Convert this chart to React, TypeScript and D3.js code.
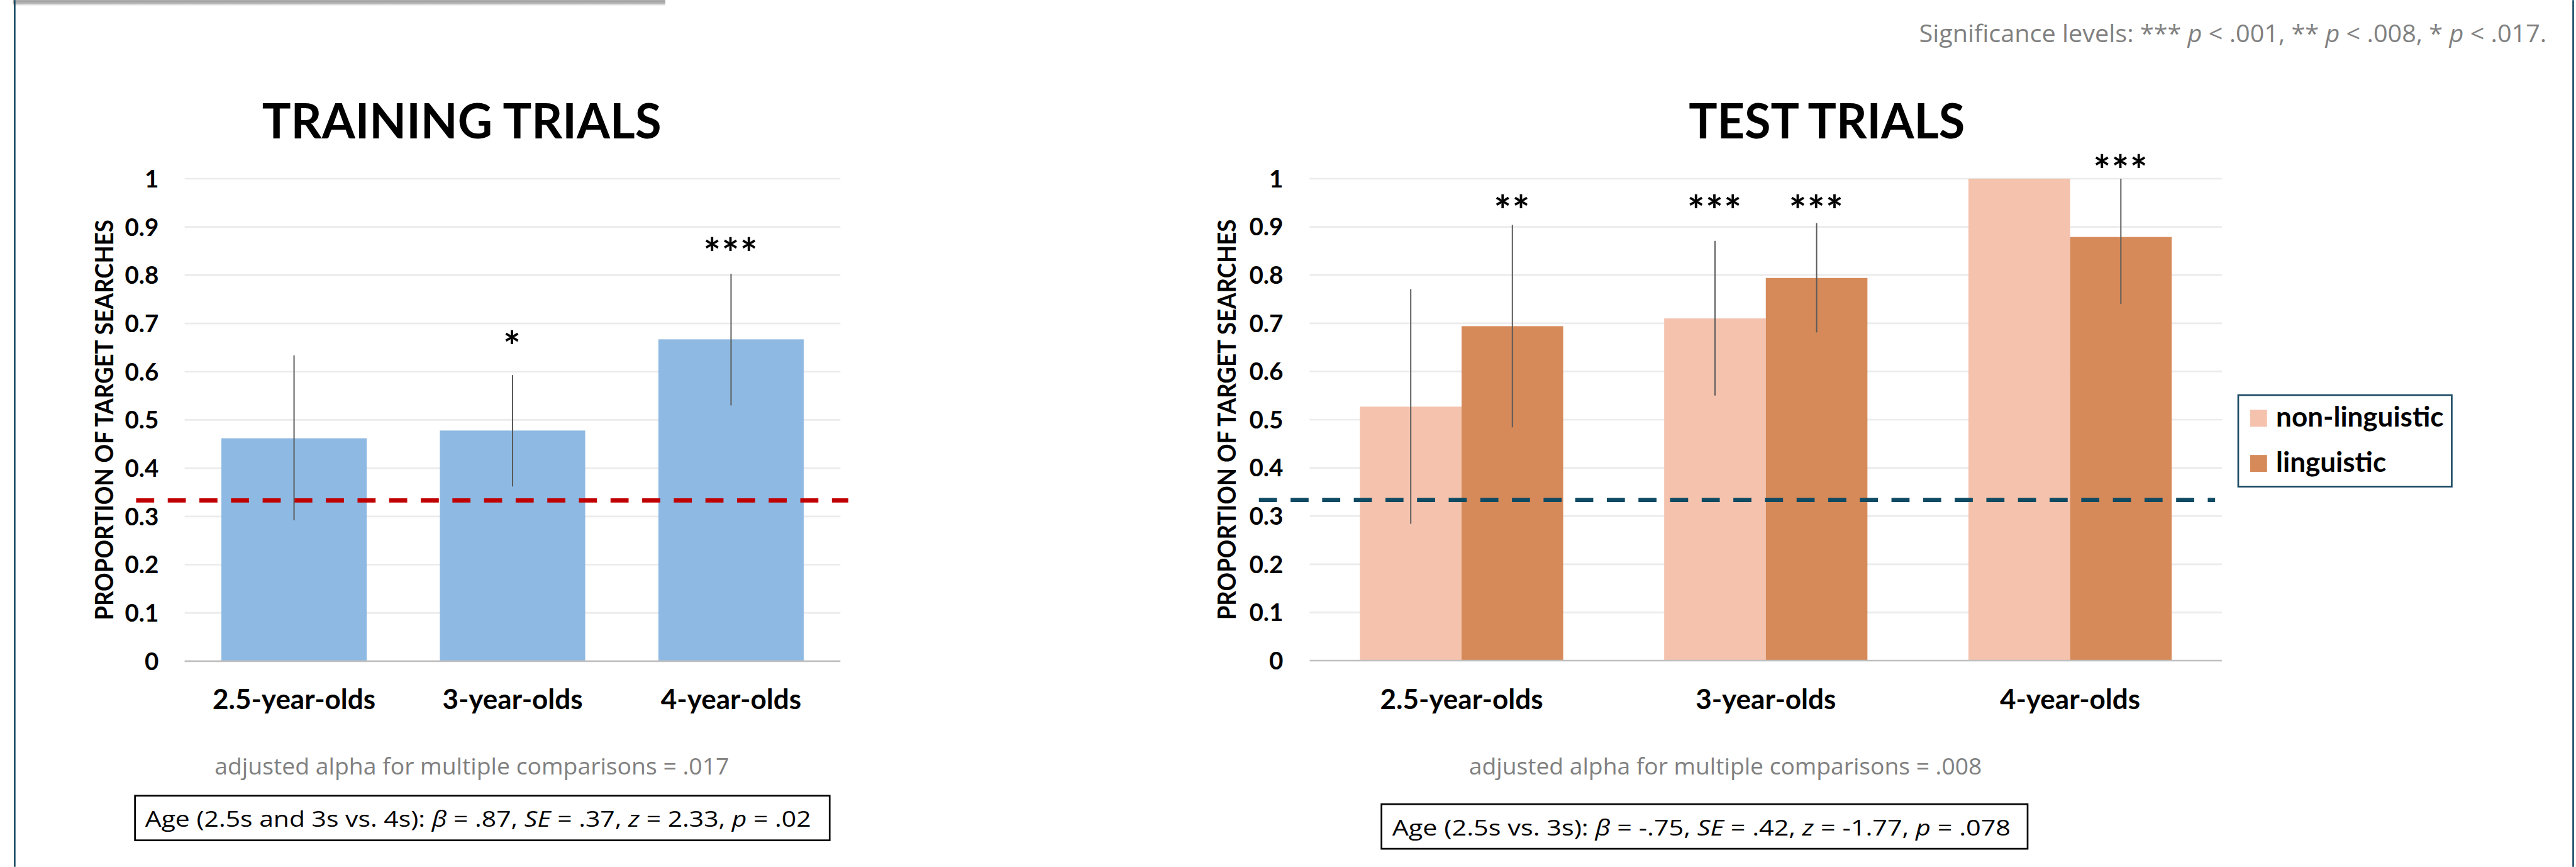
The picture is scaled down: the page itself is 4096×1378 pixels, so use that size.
import React from "react";
import * as d3 from "d3";

// ---------- data ----------
const ageGroups = ["2.5-year-olds", "3-year-olds", "4-year-olds"];
const yTicks = [0, 0.1, 0.2, 0.3, 0.4, 0.5, 0.6, 0.7, 0.8, 0.9, 1];
const chanceLevel = 1 / 3;

const trainMean = [0.462, 0.478, 0.667];
const trainLow = [0.292, 0.362, 0.53];
const trainHigh = [0.634, 0.593, 0.803];
const trainStars = ["", "*", "***"];
const trainStarLevel = [0, 0.668, 0.861];

const testSeries = ["non-linguistic", "linguistic"];
const testNonLing = [0.527, 0.71, 1.0];
const testLing = [0.694, 0.794, 0.879];
const testNonLingLow = [0.284, 0.55, NaN];
const testNonLingHigh = [0.771, 0.871, NaN];
const testLingLow = [0.484, 0.681, 0.74];
const testLingHigh = [0.904, 0.908, 1.0];
const testNonLingStars = ["", "***", ""];
const testLingStars = ["**", "***", "***"];
const testNonLingStarLevel = [0, 0.95, 0];
const testLingStarLevel = [0.95, 0.95, 1.033];

const trainTitle = "TRAINING TRIALS";
const testTitle = "TEST TRIALS";
const yAxisTitle = "PROPORTION OF TARGET SEARCHES";
const trainAlphaNote = "adjusted alpha for multiple comparisons = .017";
const testAlphaNote = "adjusted alpha for multiple comparisons = .008";
// [text, italic]
const trainStat: [string, boolean][] = [
  ["Age (2.5s and 3s vs. 4s): ", false], ["β", true], [" = .87, ", false], ["SE", true],
  [" = .37, ", false], ["z", true], [" = 2.33, ", false], ["p", true], [" = .02", false],
];
const testStat: [string, boolean][] = [
  ["Age (2.5s vs. 3s): ", false], ["β", true], [" = -.75, ", false], ["SE", true],
  [" = .42, ", false], ["z", true], [" = -1.77, ", false], ["p", true], [" = .078", false],
];
const sigNote: [string, boolean][] = [
  ["Significance levels: *** ", false], ["p", true], [" < .001, ** ", false], ["p", true],
  [" < .008, * ", false], ["p", true], [" < .017.", false],
];

// ---------- styles ----------
const REF_W = 4561;
const REF_H = 1534;
const OUT_W = 4096;
const OUT_H = 1378;
const BOLD = "Lato, 'Open Sans', sans-serif";
const NOTE = "'Open Sans', Lato, sans-serif";
const C_TRAIN = "#8DB9E2";
const C_NONLING = "#F4C2AD";
const C_LING = "#D68A59";
const C_ERR = "#595959";
const C_GRID = "#EBEBEB";
const C_BASE = "#BFBFBF";
const C_RED = "#C00000";
const C_TEAL = "#0F4A63";
const C_FRAME = "#1F4E66";
const C_NOTE = "#808080";

const fmt = d3.format("~g");

function YAxis({ y, right, x0, x1 }: any) {
  return (
    <g>
      {yTicks.map((t) => (
        <g key={t}>
          {t > 0 && (
            <line x1={x0} x2={x1} y1={y(t)} y2={y(t)} stroke={C_GRID} strokeWidth={3} />
          )}
          <text x={right} y={y(t)} dy="0.36em" textAnchor="end" fontFamily={BOLD}
            fontWeight={700} fontSize={43} fill="#000">{fmt(t)}</text>
        </g>
      ))}
    </g>
  );
}

function Segs({ segs }: { segs: [string, boolean][] }) {
  return (
    <>
      {segs.map(([s, it], i) => (
        <tspan key={i} fontStyle={it ? "italic" : "normal"}>{s}</tspan>
      ))}
    </>
  );
}

export default function App() {
  // ----- training chart scales -----
  const yL = d3.scaleLinear().domain([0, 1]).range([1170, 316]);
  const xL = d3.scaleBand<string>().domain(ageGroups).range([327, 1488])
    .paddingInner(0.335).paddingOuter(0.168);

  // ----- test chart scales -----
  const yR = d3.scaleLinear().domain([0, 1]).range([1169, 316]);
  const xR = d3.scaleBand<string>().domain(ageGroups).range([2319, 3934])
    .paddingInner(0.332).paddingOuter(0.165);
  const xS = d3.scaleBand<string>().domain(testSeries).range([0, xR.bandwidth()]).padding(0);

  const testData = [
    { key: testSeries[0], vals: testNonLing, lo: testNonLingLow, hi: testNonLingHigh, stars: testNonLingStars, lvl: testNonLingStarLevel, color: C_NONLING },
    { key: testSeries[1], vals: testLing, lo: testLingLow, hi: testLingHigh, stars: testLingStars, lvl: testLingStarLevel, color: C_LING },
  ];

  const starFont = { fontFamily: BOLD, fontWeight: 700, fontSize: 72, fill: "#000", letterSpacing: 2 } as any;

  return (
    <svg width={OUT_W} height={OUT_H} viewBox={`0 0 ${REF_W} ${REF_H}`}
      style={{ position: "absolute", left: 0, top: 0, background: "#fff" }}>
      <defs>
        <linearGradient id="topShadow" x1="0" y1="0" x2="0" y2="1">
          <stop offset="0" stopColor="#9a9a9a" />
          <stop offset="0.5" stopColor="#b8b8b8" />
          <stop offset="1" stopColor="#ffffff" stopOpacity="0" />
        </linearGradient>
      </defs>
      <rect x={0} y={0} width={REF_W} height={REF_H} fill="#fff" />
      {/* frame */}
      <rect x={23} y={0} width={1155} height={12} fill="url(#topShadow)" />
      <line x1={26} x2={26} y1={0} y2={REF_H} stroke={C_FRAME} strokeWidth={3} />
      <line x1={4556} x2={4556} y1={0} y2={REF_H} stroke={C_FRAME} strokeWidth={3} />

      {/* ===== TRAINING ===== */}
      <text x={464} y={245} fontFamily={BOLD} fontWeight={700} fontSize={86}
        textLength={707} lengthAdjust="spacingAndGlyphs">{trainTitle}</text>
      <YAxis y={yL} right={281} x0={327} x1={1488} />
      <text transform={`translate(200,${(yL(0) + yL(1)) / 2}) rotate(-90)`} textAnchor="middle"
        fontFamily={BOLD} fontWeight={700} fontSize={45} textLength={709}
        lengthAdjust="spacingAndGlyphs">{yAxisTitle}</text>
      {ageGroups.map((g, i) => (
        <rect key={g} x={xL(g)} width={xL.bandwidth()} y={yL(trainMean[i])}
          height={yL(0) - yL(trainMean[i])} fill={C_TRAIN} />
      ))}
      <line x1={327} x2={1488} y1={yL(0)} y2={yL(0)} stroke={C_BASE} strokeWidth={3} />
      <line x1={241} x2={1502} y1={yL(chanceLevel)} y2={yL(chanceLevel)} stroke={C_RED}
        strokeWidth={7.5} strokeDasharray="32 24" />
      {ageGroups.map((g, i) => {
        const cx = (xL(g) as number) + xL.bandwidth() / 2;
        return (
          <g key={g}>
            <line x1={cx} x2={cx} y1={yL(trainHigh[i])} y2={yL(trainLow[i])} stroke={C_ERR} strokeWidth={2.2} />
            {trainStars[i] && (
              <text x={cx} y={yL(trainStarLevel[i])} dy="0.55em" textAnchor="middle" {...starFont}>{trainStars[i]}</text>
            )}
            <text x={cx} y={1255} textAnchor="middle" fontFamily={BOLD} fontWeight={700} fontSize={49}>{g}</text>
          </g>
        );
      })}
      <text x={380} y={1371} fontFamily={NOTE} fontSize={40} fill={C_NOTE}
        textLength={911} lengthAdjust="spacingAndGlyphs">{trainAlphaNote}</text>
      <rect x={239} y={1408} width={1230} height={79} fill="none" stroke="#000" strokeWidth={3} />
      <text x={257} y={1463} fontFamily={NOTE} fontSize={39} fill="#000"
        textLength={1179} lengthAdjust="spacingAndGlyphs"><Segs segs={trainStat} /></text>

      {/* ===== TEST ===== */}
      <text x={2990} y={245} fontFamily={BOLD} fontWeight={700} fontSize={86}
        textLength={489} lengthAdjust="spacingAndGlyphs">{testTitle}</text>
      <YAxis y={yR} right={2272} x0={2319} x1={3934} />
      <text transform={`translate(2188,${(yR(0) + yR(1)) / 2}) rotate(-90)`} textAnchor="middle"
        fontFamily={BOLD} fontWeight={700} fontSize={45} textLength={709}
        lengthAdjust="spacingAndGlyphs">{yAxisTitle}</text>
      {testData.map((s) => (
        <g key={s.key}>
          {ageGroups.map((g, i) => (
            <rect key={g} x={(xR(g) as number) + (xS(s.key) as number)} width={xS.bandwidth()}
              y={yR(s.vals[i])} height={yR(0) - yR(s.vals[i])} fill={s.color} />
          ))}
        </g>
      ))}
      <line x1={2319} x2={3934} y1={yR(0)} y2={yR(0)} stroke={C_BASE} strokeWidth={3} />
      <line x1={2229} x2={3922} y1={yR(chanceLevel)} y2={yR(chanceLevel)} stroke={C_TEAL}
        strokeWidth={7.5} strokeDasharray="32 24" />
      {testData.map((s) => (
        <g key={s.key}>
          {ageGroups.map((g, i) => {
            const cx = (xR(g) as number) + (xS(s.key) as number) + xS.bandwidth() / 2;
            return (
              <g key={g}>
                {!isNaN(s.lo[i]) && (
                  <line x1={cx} x2={cx} y1={yR(s.hi[i])} y2={yR(s.lo[i])} stroke={C_ERR} strokeWidth={2.2} />
                )}
                {s.stars[i] && (
                  <text x={cx} y={yR(s.lvl[i])} dy="0.55em" textAnchor="middle" {...starFont}>{s.stars[i]}</text>
                )}
              </g>
            );
          })}
        </g>
      ))}
      {ageGroups.map((g) => (
        <text key={g} x={(xR(g) as number) + xR.bandwidth() / 2} y={1255} textAnchor="middle"
          fontFamily={BOLD} fontWeight={700} fontSize={49}>{g}</text>
      ))}
      {/* legend */}
      <rect x={3963} y={699} width={378} height={162} fill="#fff" stroke={C_FRAME} strokeWidth={3} />
      {testData.map((s, i) => (
        <g key={s.key} transform={`translate(3984,${725 + i * 80})`}>
          <rect x={0} y={0} width={30} height={30} fill={s.color} />
          <text x={46} y={30} fontFamily={BOLD} fontWeight={700} fontSize={49}>{s.key}</text>
        </g>
      ))}
      <text x={2601} y={1371} fontFamily={NOTE} fontSize={40} fill={C_NOTE}
        textLength={908} lengthAdjust="spacingAndGlyphs">{testAlphaNote}</text>
      <rect x={2446} y={1423} width={1144} height={79} fill="none" stroke="#000" strokeWidth={3} />
      <text x={2465} y={1478} fontFamily={NOTE} fontSize={39} fill="#000"
        textLength={1095} lengthAdjust="spacingAndGlyphs"><Segs segs={testStat} /></text>

      <text x={4509} y={74} textAnchor="end" fontFamily={NOTE} fontSize={42} fill={C_NOTE}
        textLength={1111} lengthAdjust="spacingAndGlyphs"><Segs segs={sigNote} /></text>
    </svg>
  );
}
